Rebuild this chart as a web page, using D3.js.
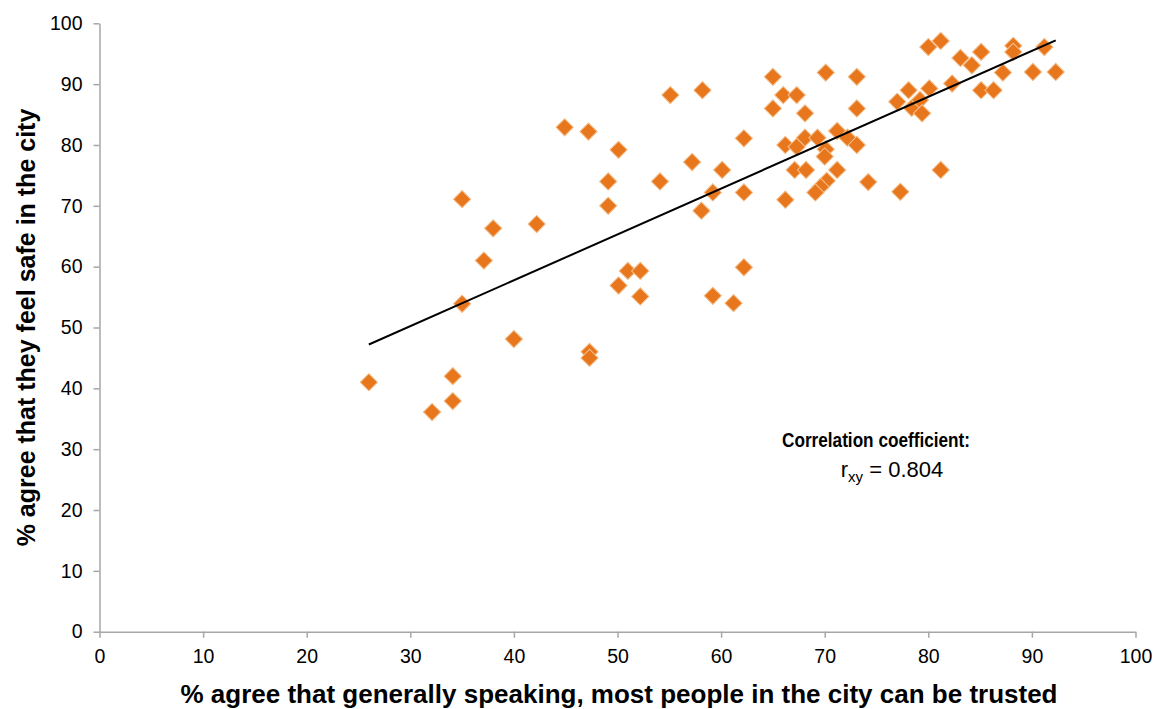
<!DOCTYPE html>
<html>
<head>
<meta charset="utf-8">
<script src="https://cdn.jsdelivr.net/npm/d3@7"></script>
<style>
html,body{margin:0;padding:0;background:#fff;}
svg{display:block;font-family:"Liberation Sans",Arial,sans-serif;}
</style>
</head>
<body>
<svg id="chart" width="1160" height="709"></svg>
<script>
// % agree that most people in the city can be trusted
const trustValues = [26.0,32.1,34.1,34.1,35.0,35.0,37.1,38.0,40.0,42.2,44.9,47.2,47.3,47.3,49.1,49.1,50.1,50.1,51.0,52.2,52.2,54.1,55.1,57.2,58.2,58.1,59.2,59.2,60.1,61.2,62.2,62.2,62.2,65.0,66.0,67.3,65.0,68.1,70.1,73.1,73.1,66.2,67.3,68.1,69.3,70.1,70.0,71.2,72.2,73.1,67.1,68.2,71.2,70.2,69.6,69.1,74.2,66.2,77.3,81.2,77.0,78.1,78.4,79.2,79.4,80.1,82.3,80.0,81.2,83.1,84.2,85.1,85.1,86.3,87.2,88.2,88.2,90.1,91.2,92.3];
// % agree that they feel safe in the city
const safeValues = [41.0,36.1,42.0,37.9,71.1,53.9,61.0,66.3,48.1,67.0,82.9,82.2,46.0,45.0,74.0,70.0,79.2,56.9,59.3,59.3,55.1,74.0,88.2,77.2,89.0,69.2,72.2,55.2,75.9,54.0,81.1,72.2,59.9,91.2,88.2,88.2,86.0,85.2,91.9,91.2,86.0,80.0,79.7,81.2,81.2,79.3,78.1,82.3,81.2,80.0,75.9,75.9,75.9,74.1,73.1,72.2,73.9,71.0,72.3,75.9,87.1,89.0,86.1,87.4,85.2,89.3,90.1,96.1,97.1,94.3,93.1,95.3,89.0,89.0,91.9,96.3,95.3,92.0,96.1,92.0];
// trend line end points (x, y)
const trendX = [26.0, 92.3];
const trendY = [47.2, 97.2];
const xTicks = [0,10,20,30,40,50,60,70,80,90,100];
const yTicks = [0,10,20,30,40,50,60,70,80,90,100];
const xTitle = "% agree that generally speaking, most people in the city can be trusted";
const yTitle = "% agree that they feel safe in the city";
const noteTitle = "Correlation coefficient:";
const noteValue = "0.804";

(function(){
const svg = d3.select("#chart");
const pl = 99.5, pr = 1135.5, pt = 23.3, pb = 631.7;
const x = d3.scaleLinear().domain([0,100]).range([pl,pr]);
const y = d3.scaleLinear().domain([0,100]).range([pb,pt]);
const axisColor = "#A6A6A6";

const xAxis = svg.append("g").attr("transform",`translate(0,${pb})`)
  .call(d3.axisBottom(x).tickValues(xTicks).tickSize(6).tickSizeOuter(0).tickPadding(11));
const yAxis = svg.append("g").attr("transform",`translate(${pl},0)`)
  .call(d3.axisLeft(y).tickValues(yTicks).tickSize(6).tickSizeOuter(0).tickPadding(11));
[xAxis,yAxis].forEach(g=>{
  g.select(".domain").attr("stroke",axisColor).attr("stroke-width",1.5);
  g.selectAll(".tick line").attr("stroke",axisColor).attr("stroke-width",1.5);
  g.selectAll(".tick text").attr("fill","#000").style("font-size","19.5px")
   .style("font-family","'Liberation Sans',Arial,sans-serif");
});

const pts = trustValues.map((v,i)=>[v,safeValues[i]]);
svg.append("g").selectAll("path").data(pts).join("path")
  .attr("d", d3.symbol().type(d3.symbolSquare).size(150))
  .attr("transform", d=>`translate(${x(d[0])},${y(d[1])}) rotate(45)`)
  .attr("fill","#E8761C").attr("stroke","#F3C08F").attr("stroke-width",1);

svg.append("line")
  .attr("x1",x(trendX[0])).attr("y1",y(trendY[0]))
  .attr("x2",x(trendX[1])).attr("y2",y(trendY[1]))
  .attr("stroke","#000").attr("stroke-width",2);

svg.append("text").attr("x",619).attr("y",703).attr("text-anchor","middle")
  .style("font-size","26px").style("font-weight","bold").text(xTitle);
svg.append("text").attr("transform",`translate(35,${(pt+pb)/2}) rotate(-90)`)
  .attr("text-anchor","middle").style("font-size","25px").style("font-weight","bold").text(yTitle);

svg.append("text").attr("x",876).attr("y",447).attr("text-anchor","middle")
  .attr("textLength",188).attr("lengthAdjust","spacingAndGlyphs")
  .style("font-size","20px").style("font-weight","bold").text(noteTitle);
const t = svg.append("text").attr("x",892).attr("y",477).attr("text-anchor","middle").style("font-size","22px");
t.append("tspan").text("r");
t.append("tspan").attr("dy",5).style("font-size","15px").text("xy");
t.append("tspan").attr("dy",-5).text(" = " + noteValue);
})();
</script>
</body>
</html>
